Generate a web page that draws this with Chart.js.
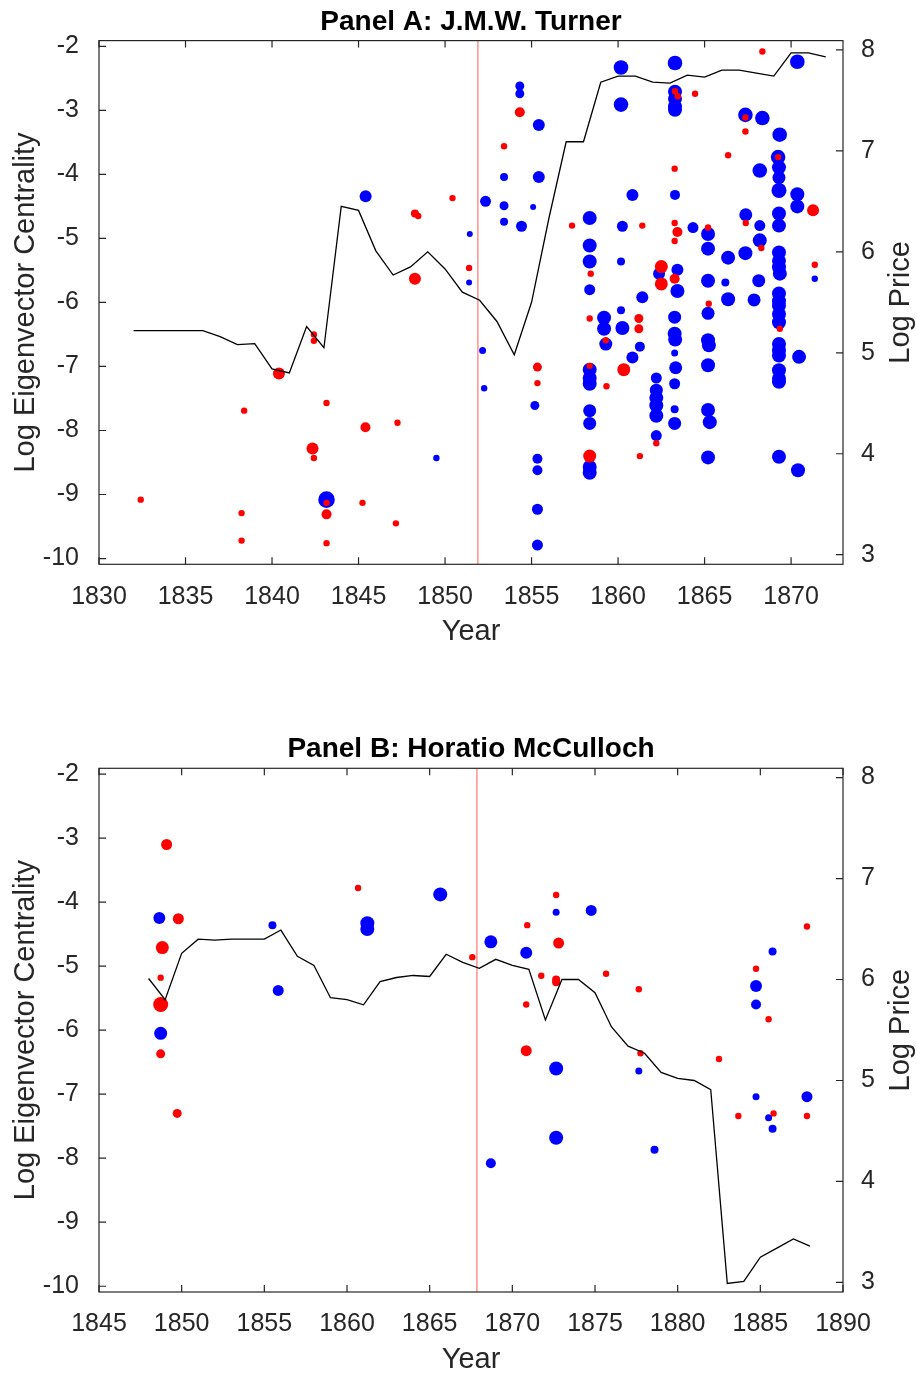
<!DOCTYPE html>
<html>
<head>
<meta charset="utf-8">
<title>Panel A / Panel B</title>
<script src="https://cdn.jsdelivr.net/npm/chart.js@4.4.0/dist/chart.umd.min.js"></script>
<style>
  body { margin: 0; background: #fff; }
  canvas { display: block; }
</style>
</head>
<body>
<canvas id="panelA" width="917" height="687" style="width:917px;height:687px"></canvas>
<canvas id="panelB" width="917" height="687" style="width:917px;height:687px"></canvas>
<script>
// tick values
const yearTicksA = [1830, 1835, 1840, 1845, 1850, 1855, 1860, 1865, 1870];
const yearTicksB = [1845, 1850, 1855, 1860, 1865, 1870, 1875, 1880, 1885, 1890];
const centTicks = [-10, -9, -8, -7, -6, -5, -4, -3, -2];
const priceTicks = [3, 4, 5, 6, 7, 8];

// Panel A: J.M.W. Turner
const breakYearA = 1851.9;
const priceYearA = [1832, 1833, 1834, 1835, 1836, 1837, 1838, 1839, 1840, 1841,
  1842, 1843, 1844, 1845, 1846, 1847, 1848, 1849, 1850, 1851,
  1852, 1853, 1854, 1855, 1856, 1857, 1858, 1859, 1860, 1861,
  1862, 1863, 1864, 1865, 1866, 1867, 1868, 1869, 1870, 1871, 1872];
const priceA = [5.22, 5.22, 5.22, 5.22, 5.22, 5.16, 5.08, 5.09, 4.84, 4.80,
  5.26, 5.05, 6.45, 6.41, 6.01, 5.77, 5.85, 6.00, 5.83, 5.60,
  5.52, 5.31, 4.98, 5.50, 6.33, 7.09, 7.09, 7.68, 7.74, 7.74,
  7.68, 7.67, 7.75, 7.73, 7.80, 7.80, 7.77, 7.74, 7.97, 7.97, 7.93];

const blueYearA = [
  1845.41, 1851.43, 1851.39, 1849.50, 1843.15, 1870.36, 1860.17, 1863.29, 1854.32, 1854.32,
  1860.17, 1863.29, 1863.29, 1863.29, 1863.29, 1867.36, 1868.34, 1869.34, 1855.42, 1869.25,
  1869.30, 1869.30, 1868.19, 1853.41, 1855.42, 1852.34, 1853.41, 1855.09, 1860.83, 1863.29,
  1869.30, 1870.36, 1870.36, 1853.41, 1854.42, 1858.36, 1860.25, 1864.33, 1865.20, 1867.38,
  1868.19, 1868.19, 1869.30, 1869.30, 1858.36, 1858.36, 1860.17, 1865.20, 1866.36, 1867.36,
  1869.30, 1869.30, 1869.30, 1869.35, 1871.37, 1862.37, 1863.43, 1863.43, 1865.20, 1866.20,
  1868.13, 1858.36, 1861.40, 1866.36, 1867.86, 1869.30, 1869.30, 1869.30, 1869.30, 1869.30,
  1852.17, 1852.26, 1860.17, 1859.19, 1859.19, 1860.25, 1863.27, 1863.27, 1863.30, 1865.20,
  1865.20, 1865.25, 1859.29, 1861.26, 1860.83, 1863.27, 1869.30, 1869.30, 1869.30, 1870.46,
  1858.36, 1858.36, 1858.36, 1863.33, 1865.20, 1869.30, 1869.30, 1869.30, 1862.21, 1862.21,
  1862.21, 1862.21, 1862.21, 1862.21, 1863.27, 1863.27, 1863.27, 1855.19, 1858.36, 1858.36,
  1865.20, 1865.30, 1858.36, 1858.36, 1855.34, 1855.34, 1865.20, 1869.30, 1870.40, 1855.34,
  1855.34];
const blueCentA = [
  -4.34, -4.93, -5.69, -8.43, -9.08, -2.24, -2.33, -2.26, -2.62, -2.74,
  -2.91, -2.71, -2.82, -2.94, -2.99, -3.07, -3.12, -3.38, -3.23, -3.73,
  -3.89, -4.05, -3.94, -4.04, -4.04, -4.42, -4.49, -4.51, -4.32, -4.32,
  -4.25, -4.31, -4.50, -4.74, -4.81, -4.68, -4.81, -4.83, -4.93, -4.63,
  -4.80, -5.03, -4.61, -4.80, -5.11, -5.36, -5.36, -5.16, -5.30, -5.23,
  -5.22, -5.35, -5.45, -5.55, -5.63, -5.55, -5.49, -5.82, -5.66, -5.69,
  -5.66, -5.80, -5.92, -5.95, -5.96, -5.86, -5.98, -6.05, -6.18, -6.31,
  -6.75, -7.34, -6.12, -6.24, -6.41, -6.40, -6.23, -6.49, -6.58, -6.17,
  -6.59, -6.67, -6.65, -6.69, -6.86, -6.79, -6.65, -6.75, -6.83, -6.85,
  -7.05, -7.18, -7.27, -7.02, -6.98, -7.06, -7.19, -7.24, -7.18, -7.37,
  -7.49, -7.61, -7.77, -8.08, -7.27, -7.67, -7.89, -7.61, -7.69, -7.89,
  -7.68, -7.87, -8.57, -8.66, -8.44, -8.62, -8.42, -8.41, -8.62, -9.23,
  -9.79];
const blueSizeA = [
  6, 3, 3, 3.2, 8.3, 7.3, 7.3, 7.3, 4.5, 4.5,
  7.3, 7, 7, 7, 7, 7.3, 7.3, 7.3, 6, 7.3,
  7, 6.5, 7.3, 4, 6, 5.5, 4.5, 3, 6, 5,
  7.5, 7, 7, 4, 5.5, 7, 5.5, 5.5, 7, 6.5,
  5.5, 7, 7, 7, 7, 7, 4, 7, 7, 7,
  7, 7, 7, 7, 3.2, 6, 6, 7, 7, 4,
  6.5, 5.5, 6, 7, 6.5, 7, 7, 7, 7, 7,
  3.5, 3.2, 4, 7, 7, 7, 6.5, 7, 7, 6.5,
  7, 7, 6.5, 5, 6, 3.5, 7, 7, 7, 7,
  7, 7, 7, 6.5, 7, 7, 7, 7, 5.5, 6.5,
  7, 7, 7, 5.5, 5.5, 4, 6.5, 4.5, 6.5, 6.5,
  7, 7, 7, 7, 5, 5, 7, 7, 7, 5.5,
  5.5];

const redYearA = [
  1850.43, 1848.26, 1848.45, 1848.26, 1851.39, 1840.40, 1842.42, 1842.42, 1838.39, 1843.15,
  1845.40, 1847.25, 1842.34, 1842.42, 1832.41, 1843.15, 1845.23, 1838.24, 1843.15, 1847.16,
  1838.24, 1843.15, 1868.34, 1854.32, 1863.29, 1863.45, 1864.45, 1867.36, 1867.36, 1853.41,
  1866.36, 1869.25, 1863.27, 1871.27, 1857.34, 1861.40, 1863.27, 1863.43, 1863.27, 1865.20,
  1867.38, 1868.28, 1871.37, 1858.42, 1862.50, 1862.50, 1863.27, 1865.24, 1869.35, 1858.36,
  1861.20, 1861.20, 1859.29, 1855.34, 1855.34, 1858.36, 1860.33, 1859.33, 1862.21, 1861.26,
  1858.36];
const redCentA = [
  -4.37, -4.61, -4.65, -5.63, -5.46, -7.11, -6.50, -6.60, -7.69, -7.57,
  -7.95, -7.88, -8.28, -8.43, -9.08, -9.13, -9.13, -9.29, -9.31, -9.45,
  -9.72, -9.76, -2.08, -3.03, -2.70, -2.78, -2.74, -3.11, -3.33, -3.56,
  -3.70, -3.73, -3.91, -4.56, -4.80, -4.80, -4.76, -4.90, -5.04, -4.83,
  -4.76, -5.15, -5.41, -5.55, -5.44, -5.71, -5.63, -6.02, -6.41, -6.25,
  -6.25, -6.41, -6.59, -7.01, -7.26, -6.99, -7.05, -7.31, -8.20, -8.40,
  -8.40];
const redSizeA = [
  3.2, 4, 3.2, 6, 3.2, 6, 3.2, 3.2, 3.2, 3.2,
  5, 3.2, 6, 3.2, 3.2, 3.2, 3.2, 3.2, 5, 3.2,
  3.2, 3.2, 3.2, 5, 3.2, 3.2, 3.2, 3.2, 3.2, 3.2,
  3.2, 3.2, 3.2, 6, 3.2, 3.2, 3.2, 5, 3.2, 3.2,
  3.2, 3.2, 3.2, 3.2, 6.5, 6.5, 5, 3.2, 3.2, 3.2,
  4.5, 4.5, 3.2, 4.5, 3.2, 3.2, 6.5, 3.2, 3.2, 3.2,
  6.5];

// Panel B: Horatio McCulloch
const breakYearB = 1867.86;
const priceYearB = [1848, 1849, 1850, 1851, 1852, 1853, 1854, 1855, 1856, 1857,
  1858, 1859, 1860, 1861, 1862, 1863, 1864, 1865, 1866, 1867,
  1868, 1869, 1870, 1871, 1872, 1873, 1874, 1875, 1876, 1877,
  1878, 1879, 1880, 1881, 1882, 1883, 1884, 1885, 1886, 1887, 1888];
const priceB = [6.01, 5.80, 6.26, 6.40, 6.39, 6.40, 6.40, 6.40, 6.49, 6.23,
  6.14, 5.82, 5.80, 5.75, 5.98, 6.02, 6.04, 6.03, 6.25, 6.17,
  6.11, 6.20, 6.14, 6.10, 5.60, 6.00, 6.00, 5.87, 5.53, 5.34,
  5.27, 5.08, 5.02, 5.00, 4.91, 2.99, 3.01, 3.25, 3.34, 3.43, 3.36];

const blueYearB = [1865.64, 1848.65, 1855.49, 1861.23, 1861.23, 1868.70, 1855.84, 1848.73, 1868.70, 1872.65,
  1874.77, 1870.84, 1885.74, 1884.74, 1884.74, 1872.65, 1877.65, 1884.74, 1887.82, 1885.50,
  1885.74, 1872.65, 1878.60];
const blueCentB = [-3.88, -4.25, -4.36, -4.33, -4.42, -4.62, -5.38, -6.05, -8.08, -4.16,
  -4.13, -4.79, -4.77, -5.31, -5.60, -6.60, -6.64, -7.04, -7.04, -7.37,
  -7.54, -7.68, -7.87];
const blueSizeB = [7, 6, 4, 7, 7, 6.5, 5.5, 6.5, 5, 3.5,
  5.5, 6, 4, 6, 5, 7, 3.5, 3.5, 5.5, 3.5,
  4, 7, 4];

const redYearB = [1849.09, 1860.67, 1849.80, 1848.83, 1867.58, 1848.73, 1848.73, 1848.73, 1849.73, 1872.65,
  1870.90, 1872.80, 1871.75, 1872.65, 1872.65, 1875.67, 1877.65, 1870.84, 1887.82, 1884.74,
  1885.50, 1870.84, 1877.75, 1882.50, 1883.67, 1885.80, 1887.82];
const redCentB = [-3.10, -3.78, -4.26, -4.71, -4.86, -5.18, -5.60, -6.37, -7.30, -3.89,
  -4.36, -4.64, -5.15, -5.21, -5.25, -5.12, -5.36, -5.60, -4.38, -5.04,
  -5.83, -6.32, -6.36, -6.45, -7.34, -7.30, -7.34];
const redSizeB = [5.5, 3.2, 5.5, 6.5, 3.2, 3.2, 7.5, 4.5, 4.5, 3.2,
  3.2, 5.5, 3.2, 4, 4, 3.2, 3.2, 3.2, 3.2, 3.2,
  3.2, 5.5, 3.2, 3.2, 3.2, 3.2, 3.2];

const fontFamily = '"Liberation Sans", Arial, Helvetica, sans-serif';
const axisColor = "#262626";
const centMin = -10.09, centMax = -1.91;
const priceMin = 2.905, priceMax = 8.092;

Chart.defaults.font.family = fontFamily;
Chart.defaults.color = axisColor;

function toBubbles(years, cents, sizes) {
  return years.map((x, i) => ({ x: x, y: cents[i], r: sizes[i] }));
}

function toLine(years, values) {
  return years.map((x, i) => ({ x: x, y: values[i] }));
}

// matlab style box with inward ticks + right label read bottom-up
const boxAxes = {
  id: "boxAxes",
  afterDraw(chart) {
    const { ctx, chartArea: a, scales } = chart;
    const tl = 7;
    ctx.save();
    ctx.strokeStyle = axisColor;
    ctx.lineWidth = 1.2;
    ctx.beginPath();
    scales.x.ticks.forEach((t) => {
      const px = scales.x.getPixelForValue(t.value);
      ctx.moveTo(px, a.bottom);
      ctx.lineTo(px, a.bottom - tl);
      ctx.moveTo(px, a.top);
      ctx.lineTo(px, a.top + tl);
    });
    scales.y.ticks.forEach((t) => {
      const py = scales.y.getPixelForValue(t.value);
      ctx.moveTo(a.left, py);
      ctx.lineTo(a.left + tl, py);
    });
    scales.y2.ticks.forEach((t) => {
      const py = scales.y2.getPixelForValue(t.value);
      ctx.moveTo(a.right, py);
      ctx.lineTo(a.right - tl, py);
    });
    ctx.stroke();
    ctx.strokeRect(a.left, a.top, a.right - a.left, a.bottom - a.top);

    ctx.fillStyle = axisColor;
    ctx.font = "29px " + fontFamily;
    ctx.textAlign = "center";
    ctx.textBaseline = "middle";
    ctx.translate(chart.width - 16, (a.top + a.bottom) / 2);
    ctx.rotate(-Math.PI / 2);
    ctx.fillText("Log Price", 0, 0);
    ctx.restore();
  },
};

function makePanel(canvasId, opts) {
  return new Chart(document.getElementById(canvasId), {
    type: "bubble",
    data: {
      datasets: [
        {
          type: "line",
          label: "Log Price",
          data: toLine(opts.priceYears, opts.prices),
          yAxisID: "y2",
          borderColor: "#000",
          borderWidth: 1.3,
          pointRadius: 0,
          tension: 0,
          fill: false,
        },
        {
          type: "line",
          label: "break",
          data: [{ x: opts.breakYear, y: centMin }, { x: opts.breakYear, y: centMax }],
          yAxisID: "y",
          borderColor: "rgba(255,60,60,0.85)",
          borderWidth: 1,
          pointRadius: 0,
          fill: false,
        },
        {
          label: "red",
          data: toBubbles(opts.redYears, opts.redCents, opts.redSizes),
          yAxisID: "y",
          backgroundColor: "#ff0000",
          borderWidth: 0,
        },
        {
          label: "blue",
          data: toBubbles(opts.blueYears, opts.blueCents, opts.blueSizes),
          yAxisID: "y",
          backgroundColor: "#0000ff",
          borderWidth: 0,
        },
      ],
    },
    options: {
      responsive: false,
      devicePixelRatio: 1,
      animation: false,
      events: [],
      layout: { autoPadding: false, padding: opts.padding },
      plugins: {
        legend: { display: false },
        tooltip: { enabled: false },
        title: {
          display: true,
          text: opts.title,
          color: "#000",
          fullSize: false,
          font: { size: 28, weight: "bold" },
          padding: { top: 5, bottom: 2 },
        },
      },
      scales: {
        x: {
          type: "linear",
          min: opts.xMin,
          max: opts.xMax,
          afterBuildTicks: (axis) => { axis.ticks = opts.yearTicks.map((v) => ({ value: v })); },
          afterFit: (axis) => { axis.height = 82; },
          grid: { display: false },
          border: { display: false },
          ticks: { font: { size: 25 }, padding: 9.5, maxRotation: 0, autoSkip: false, callback: (v) => String(v) },
          title: { display: true, text: "Year", font: { size: 29 }, padding: { top: 0, bottom: -3 } },
        },
        y: {
          type: "linear",
          position: "left",
          min: centMin,
          max: centMax,
          afterBuildTicks: (axis) => { axis.ticks = centTicks.map((v) => ({ value: v })); },
          afterFit: (axis) => { axis.width = 99; },
          grid: { display: false },
          border: { display: false },
          ticks: { font: { size: 25 }, padding: 12, callback: (v) => String(v) },
          title: { display: true, text: "Log Eigenvector Centrality", font: { size: 29 }, padding: { top: 9, bottom: 0 } },
        },
        y2: {
          type: "linear",
          position: "right",
          min: priceMin,
          max: priceMax,
          afterBuildTicks: (axis) => { axis.ticks = priceTicks.map((v) => ({ value: v })); },
          afterFit: (axis) => { axis.width = 74; },
          grid: { display: false },
          border: { display: false },
          ticks: { font: { size: 25 }, padding: 10, callback: (v) => String(v) },
        },
      },
    },
    plugins: [boxAxes],
  });
}

makePanel("panelA", {
  title: "Panel A: J.M.W. Turner",
  padding: { top: 0, bottom: 40.7, left: 0, right: 0 },
  xMin: 1830, xMax: 1873, yearTicks: yearTicksA, breakYear: breakYearA,
  priceYears: priceYearA, prices: priceA,
  blueYears: blueYearA, blueCents: blueCentA, blueSizes: blueSizeA,
  redYears: redYearA, redCents: redCentA, redSizes: redSizeA,
});

makePanel("panelB", {
  title: "Panel B: Horatio McCulloch",
  padding: { top: 40.7, bottom: 0, left: 0, right: 0 },
  xMin: 1845, xMax: 1890, yearTicks: yearTicksB, breakYear: breakYearB,
  priceYears: priceYearB, prices: priceB,
  blueYears: blueYearB, blueCents: blueCentB, blueSizes: blueSizeB,
  redYears: redYearB, redCents: redCentB, redSizes: redSizeB,
});
</script>
</body>
</html>
